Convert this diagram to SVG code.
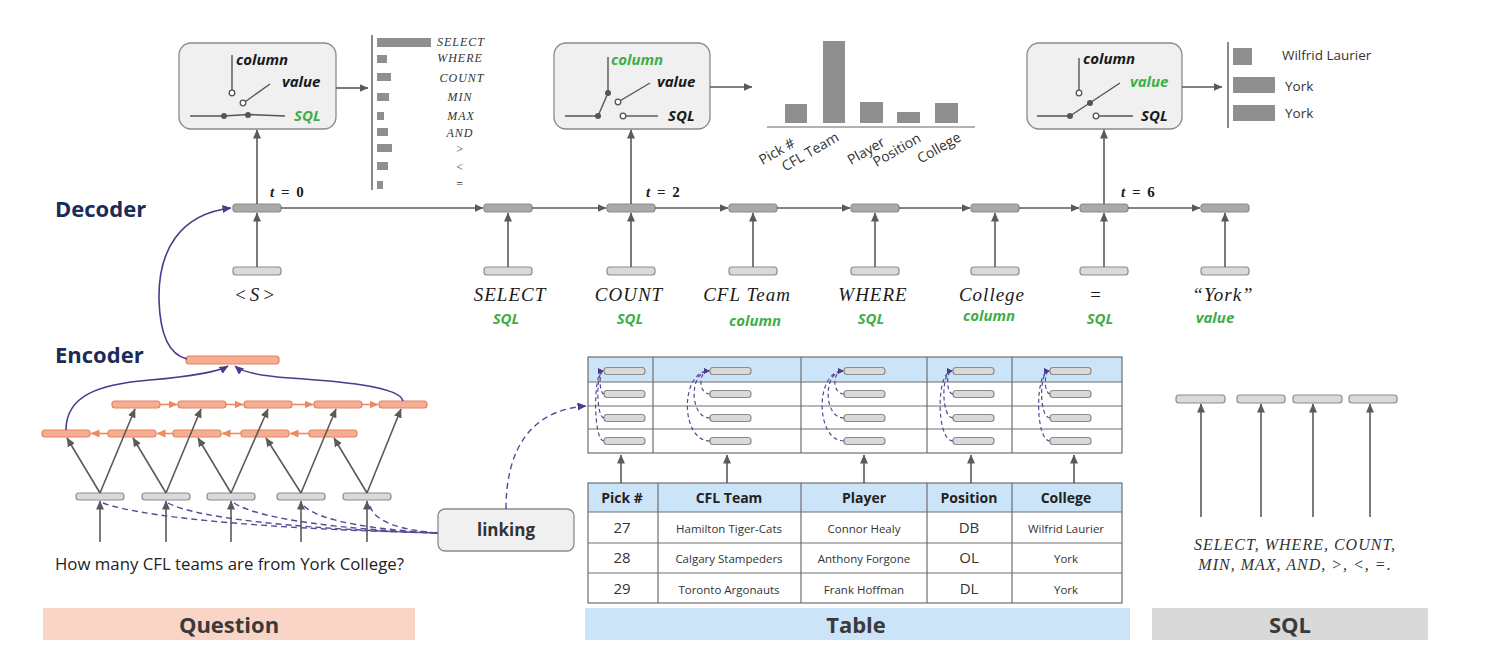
<svg xmlns="http://www.w3.org/2000/svg" width="1504" height="660" viewBox="0 0 1504 660">
<defs>
<style>
.sans{font-family:"Open Sans","Noto Sans","Liberation Sans",sans-serif}
.math{font-family:"Liberation Serif","DejaVu Serif",serif;font-style:italic}
.bi{font-family:"Open Sans","Noto Sans","Liberation Sans",sans-serif;font-weight:bold;font-style:italic;font-size:15px}
.blk{fill:#1a1a1a}
.grn{fill:#3fae49}
.navy{font-family:"Open Sans","Noto Sans","Liberation Sans",sans-serif;font-weight:bold;font-size:22px;fill:#1c2b58}
.box{fill:#f0f0f0;stroke:#8a8a8a;stroke-width:1.3}
.gnode{fill:#d9d9d9;stroke:#8c8c8c;stroke-width:1.2}
.dnode{fill:#a9a9a9;stroke:#8c8c8c;stroke-width:1.2}
.onode{fill:#f4ae93;stroke:#e8825e;stroke-width:1.2}
.arr{stroke:#5a5a5a;stroke-width:1.6;fill:none;marker-end:url(#ag)}
.oarr{stroke:#ee8a60;stroke-width:1.6;fill:none;marker-end:url(#ao)}
.parr{stroke:#4e3a8c;stroke-width:1.6;fill:none;marker-end:url(#ap)}
.pdash{stroke:#5a4796;stroke-width:1.4;fill:none;stroke-dasharray:6 4}
.pdarr{stroke:#5a4796;stroke-width:1.4;fill:none;stroke-dasharray:6 4;marker-end:url(#ap)}
.tdash{stroke:#5a4796;stroke-width:1.2;fill:none;stroke-dasharray:4 3;marker-end:url(#aps)}
.sw{stroke:#555;stroke-width:1.4;fill:none}
.oc{fill:#fff;stroke:#555;stroke-width:1.3}
.fc{fill:#555}
.bar{fill:#8f8f8f}
.axis{stroke:#8a8a8a;stroke-width:2}
.grid{stroke:#6e6e6e;stroke-width:1.2;fill:none}
.hdr{fill:#cce4f7}
.th{font-family:"Open Sans","Noto Sans","Liberation Sans",sans-serif;font-weight:bold;font-size:14px;fill:#222;text-anchor:middle}
.td{font-family:"Open Sans","Noto Sans","Liberation Sans",sans-serif;font-size:11.5px;fill:#333;text-anchor:middle}
.tn{font-family:"Open Sans","Noto Sans","Liberation Sans",sans-serif;font-size:15px;fill:#333;text-anchor:middle}
.lbl{font-family:"Liberation Serif","DejaVu Serif",serif;font-style:italic;font-size:19px;letter-spacing:1px;fill:#1a1a1a;text-anchor:middle}
.sl{font-family:"Liberation Serif","DejaVu Serif",serif;font-style:italic;font-size:12px;letter-spacing:1px;fill:#333;text-anchor:middle}
.tt{font-family:"Liberation Serif","DejaVu Serif",serif;font-weight:bold;font-size:15px;letter-spacing:1.5px;fill:#1a1a1a}
.bl{font-family:"Open Sans","Noto Sans","Liberation Sans",sans-serif;font-size:13px;fill:#333}
.cap{font-family:"Open Sans","Noto Sans","Liberation Sans",sans-serif;font-weight:bold;font-size:22px;fill:#3a3a3a;text-anchor:middle}
</style>
<marker id="ag" markerWidth="10" markerHeight="10" refX="8.5" refY="4" orient="auto" markerUnits="userSpaceOnUse"><path d="M0,0 L9,4 L0,8 z" fill="#5a5a5a"/></marker>
<marker id="ao" markerWidth="10" markerHeight="10" refX="8.5" refY="4" orient="auto" markerUnits="userSpaceOnUse"><path d="M0,0 L9,4 L0,8 z" fill="#ee8a60"/></marker>
<marker id="ap" markerWidth="10" markerHeight="10" refX="8.5" refY="4" orient="auto" markerUnits="userSpaceOnUse"><path d="M0,0 L9,4 L0,8 z" fill="#4e3a8c"/></marker>
<marker id="aps" markerWidth="8" markerHeight="8" refX="5.5" refY="3" orient="auto" markerUnits="userSpaceOnUse"><path d="M0,0 L6,3 L0,6 z" fill="#4e3a8c"/></marker>
</defs>
<rect width="1504" height="660" fill="#fff"/>

<!-- Section labels -->
<text class="navy" x="55" y="217">Decoder</text>
<text class="navy" x="55" y="363">Encoder</text>

<!-- Switch box 1 -->
<g id="switch-t0">
<rect class="box" x="179" y="43" width="157" height="86" rx="12"/>
<line class="sw" x1="232" y1="55" x2="232" y2="90"/>
<circle class="oc" cx="232" cy="93" r="2.8"/>
<circle class="oc" cx="243" cy="103" r="2.8"/>
<line class="sw" x1="245.5" y1="101.5" x2="270" y2="84"/>
<polyline class="sw" points="190,116 224,116 248,114.5 285,116"/>
<circle class="fc" cx="224" cy="116" r="3"/>
<circle class="fc" cx="248" cy="115" r="3"/>
<text class="bi blk" x="236" y="65">column</text>
<text class="bi blk" x="282" y="87">value</text>
<text class="bi grn" x="294" y="121">SQL</text>
</g>

<!-- Bar chart 1 -->
<g id="sql-chart">
<line class="axis" x1="372" y1="35" x2="372" y2="190"/>
<rect class="bar" x="377" y="38" width="54" height="9"/>
<rect class="bar" x="377" y="55" width="10" height="8"/>
<rect class="bar" x="377" y="73" width="14" height="8"/>
<rect class="bar" x="377" y="93" width="12" height="8"/>
<rect class="bar" x="377" y="112" width="7" height="8"/>
<rect class="bar" x="377" y="128" width="11" height="8"/>
<rect class="bar" x="377" y="144" width="15" height="8"/>
<rect class="bar" x="377" y="162" width="11" height="8"/>
<rect class="bar" x="377" y="181" width="6" height="8"/>
<text class="sl" x="461" y="46">SELECT</text>
<text class="sl" x="460" y="62">WHERE</text>
<text class="sl" x="462" y="82">COUNT</text>
<text class="sl" x="460" y="101">MIN</text>
<text class="sl" x="461" y="120">MAX</text>
<text class="sl" x="460" y="137">AND</text>
<text class="sl" x="460" y="153">&gt;</text>
<text class="sl" x="460" y="171">&lt;</text>
<text class="sl" x="460" y="188">=</text>
</g>

<!-- Switch box 2 -->
<g id="switch-t2">
<rect class="box" x="554" y="43" width="156" height="86" rx="12"/>
<line class="sw" x1="608" y1="57" x2="608" y2="93"/>
<line class="sw" x1="608" y1="93" x2="598" y2="116"/>
<line class="sw" x1="565" y1="116" x2="598" y2="116"/>
<circle class="fc" cx="608" cy="93" r="3"/>
<circle class="fc" cx="598" cy="116" r="3"/>
<circle class="oc" cx="618" cy="102" r="2.8"/>
<line class="sw" x1="620.5" y1="100.5" x2="650" y2="83"/>
<circle class="oc" cx="623" cy="116" r="2.8"/>
<line class="sw" x1="626" y1="116" x2="658" y2="116"/>
<text class="bi grn" x="611" y="65">column</text>
<text class="bi blk" x="657" y="87">value</text>
<text class="bi blk" x="668" y="121">SQL</text>
</g>

<!-- Bar chart 2 -->
<g id="column-chart">
<line stroke="#999" stroke-width="1.5" x1="767" y1="127" x2="975" y2="127"/>
<rect class="bar" x="785" y="104" width="22" height="19"/>
<rect class="bar" x="823" y="41" width="22" height="82"/>
<rect class="bar" x="860" y="102" width="23" height="21"/>
<rect class="bar" x="897" y="112" width="23" height="11"/>
<rect class="bar" x="935" y="103" width="23" height="20"/>
<text class="bl" style="font-size:14px" text-anchor="end" transform="translate(796,146) rotate(-30)">Pick #</text>
<text class="bl" style="font-size:14px" text-anchor="end" transform="translate(840,140) rotate(-30)">CFL Team</text>
<text class="bl" style="font-size:14px" text-anchor="end" transform="translate(886,145) rotate(-30)">Player</text>
<text class="bl" style="font-size:14px" text-anchor="end" transform="translate(922,141) rotate(-30)">Position</text>
<text class="bl" style="font-size:14px" text-anchor="end" transform="translate(962,140) rotate(-30)">College</text>
</g>

<!-- Switch box 3 -->
<g id="switch-t6">
<rect class="box" x="1027" y="43" width="155" height="86" rx="12"/>
<line class="sw" x1="1079" y1="58" x2="1079" y2="90"/>
<circle class="oc" cx="1079" cy="93" r="2.8"/>
<line class="sw" x1="1037" y1="116" x2="1070" y2="116"/>
<line class="sw" x1="1070" y1="116" x2="1120" y2="83"/>
<circle class="fc" cx="1070" cy="116" r="3"/>
<circle class="fc" cx="1090" cy="103" r="3"/>
<circle class="oc" cx="1096" cy="116" r="2.8"/>
<line class="sw" x1="1099" y1="116" x2="1133" y2="116"/>
<text class="bi blk" x="1083" y="64">column</text>
<text class="bi grn" x="1130" y="87">value</text>
<text class="bi blk" x="1141" y="121">SQL</text>
</g>

<!-- Bar chart 3 -->
<g id="value-chart">
<line class="axis" x1="1228" y1="42" x2="1228" y2="128"/>
<rect class="bar" x="1233" y="48" width="19" height="17"/>
<rect class="bar" x="1233" y="77" width="42" height="16"/>
<rect class="bar" x="1233" y="105" width="42" height="16"/>
<text class="bl" style="font-size:13.5px" x="1282" y="60">Wilfrid Laurier</text>
<text class="bl" style="font-size:13.5px" x="1285" y="91">York</text>
<text class="bl" style="font-size:13.5px" x="1285" y="118">York</text>
</g>

<!-- Decoder nodes -->
<g id="decoder">
<rect class="dnode" x="233" y="204" width="48" height="8" rx="3"/>
<rect class="dnode" x="484" y="204" width="48" height="8" rx="3"/>
<rect class="dnode" x="607" y="204" width="48" height="8" rx="3"/>
<rect class="dnode" x="729" y="204" width="48" height="8" rx="3"/>
<rect class="dnode" x="851" y="204" width="48" height="8" rx="3"/>
<rect class="dnode" x="971" y="204" width="48" height="8" rx="3"/>
<rect class="dnode" x="1080" y="204" width="48" height="8" rx="3"/>
<rect class="dnode" x="1201" y="204" width="48" height="8" rx="3"/>
</g>
<g id="decoder-inputs">
<rect class="gnode" x="233" y="267" width="48" height="8" rx="3"/>
<rect class="gnode" x="484" y="267" width="48" height="8" rx="3"/>
<rect class="gnode" x="607" y="267" width="48" height="8" rx="3"/>
<rect class="gnode" x="729" y="267" width="48" height="8" rx="3"/>
<rect class="gnode" x="851" y="267" width="48" height="8" rx="3"/>
<rect class="gnode" x="971" y="267" width="48" height="8" rx="3"/>
<rect class="gnode" x="1080" y="267" width="48" height="8" rx="3"/>
<rect class="gnode" x="1201" y="267" width="48" height="8" rx="3"/>
<text class="lbl" x="256" y="301" style="letter-spacing:3px">&lt;S&gt;</text>
<text class="lbl" x="510" y="301">SELECT</text>
<text class="lbl" x="629" y="301">COUNT</text>
<text class="lbl" x="747" y="301">CFL Team</text>
<text class="lbl" x="873" y="301">WHERE</text>
<text class="lbl" x="992" y="301">College</text>
<text class="lbl" x="1096" y="301">=</text>
<text class="lbl" x="1223" y="301">“York”</text>
<text class="bi grn" text-anchor="middle" x="506" y="324">SQL</text>
<text class="bi grn" text-anchor="middle" x="630" y="324">SQL</text>
<text class="bi grn" text-anchor="middle" x="755" y="326">column</text>
<text class="bi grn" text-anchor="middle" x="871" y="324">SQL</text>
<text class="bi grn" text-anchor="middle" x="989" y="321">column</text>
<text class="bi grn" text-anchor="middle" x="1100" y="324">SQL</text>
<text class="bi grn" text-anchor="middle" x="1215" y="323">value</text>
<text class="tt" x="270" y="197"><tspan font-style="italic">t</tspan> = 0</text>
<text class="tt" x="646" y="197"><tspan font-style="italic">t</tspan> = 2</text>
<text class="tt" x="1121" y="197"><tspan font-style="italic">t</tspan> = 6</text>
</g>

<!-- Encoder -->
<g id="encoder">
<rect class="onode" x="186" y="356" width="93" height="8" rx="3"/>
<rect class="onode" x="112" y="401" width="48" height="7" rx="3"/>
<rect class="onode" x="178" y="401" width="48" height="7" rx="3"/>
<rect class="onode" x="244" y="401" width="48" height="7" rx="3"/>
<rect class="onode" x="314" y="401" width="48" height="7" rx="3"/>
<rect class="onode" x="379" y="401" width="48" height="7" rx="3"/>
<rect class="onode" x="42" y="430" width="48" height="7" rx="3"/>
<rect class="onode" x="108" y="430" width="48" height="7" rx="3"/>
<rect class="onode" x="173" y="430" width="48" height="7" rx="3"/>
<rect class="onode" x="241" y="430" width="48" height="7" rx="3"/>
<rect class="onode" x="309" y="430" width="48" height="7" rx="3"/>
<rect class="gnode" x="76" y="493" width="48" height="7" rx="3"/>
<rect class="gnode" x="142" y="493" width="48" height="7" rx="3"/>
<rect class="gnode" x="207" y="493" width="48" height="7" rx="3"/>
<rect class="gnode" x="277" y="493" width="48" height="7" rx="3"/>
<rect class="gnode" x="343" y="493" width="48" height="7" rx="3"/>
<text class="sans" x="55" y="570" font-size="16.8" fill="#222">How many CFL teams are from York College?</text>
</g>

<!-- Linking -->
<g id="linking">
<rect class="box" x="438" y="509" width="136" height="42" rx="7"/>
<text class="sans" x="506" y="536" font-size="17" font-weight="bold" fill="#333" text-anchor="middle">linking</text>
</g>

<!-- Table top (embeddings) -->
<g id="table-encoder">
<rect class="hdr" x="588" y="357" width="534" height="25"/>
<rect class="grid" x="588" y="357" width="534" height="96"/>
<line class="grid" x1="588" y1="382" x2="1122" y2="382"/>
<line class="grid" x1="588" y1="406" x2="1122" y2="406"/>
<line class="grid" x1="588" y1="429" x2="1122" y2="429"/>
<line class="grid" x1="653" y1="357" x2="653" y2="453"/>
<line class="grid" x1="801" y1="357" x2="801" y2="453"/>
<line class="grid" x1="927" y1="357" x2="927" y2="453"/>
<line class="grid" x1="1012" y1="357" x2="1012" y2="453"/>
<g>
<rect class="gnode" x="604" y="367.5" width="41" height="7" rx="3"/><rect class="gnode" x="604" y="390.5" width="41" height="7" rx="3"/><rect class="gnode" x="604" y="414.5" width="41" height="7" rx="3"/><rect class="gnode" x="604" y="437.5" width="41" height="7" rx="3"/>
<rect class="gnode" x="710" y="367.5" width="41" height="7" rx="3"/><rect class="gnode" x="710" y="390.5" width="41" height="7" rx="3"/><rect class="gnode" x="710" y="414.5" width="41" height="7" rx="3"/><rect class="gnode" x="710" y="437.5" width="41" height="7" rx="3"/>
<rect class="gnode" x="844" y="367.5" width="41" height="7" rx="3"/><rect class="gnode" x="844" y="390.5" width="41" height="7" rx="3"/><rect class="gnode" x="844" y="414.5" width="41" height="7" rx="3"/><rect class="gnode" x="844" y="437.5" width="41" height="7" rx="3"/>
<rect class="gnode" x="953" y="367.5" width="41" height="7" rx="3"/><rect class="gnode" x="953" y="390.5" width="41" height="7" rx="3"/><rect class="gnode" x="953" y="414.5" width="41" height="7" rx="3"/><rect class="gnode" x="953" y="437.5" width="41" height="7" rx="3"/>
<rect class="gnode" x="1050" y="367.5" width="41" height="7" rx="3"/><rect class="gnode" x="1050" y="390.5" width="41" height="7" rx="3"/><rect class="gnode" x="1050" y="414.5" width="41" height="7" rx="3"/><rect class="gnode" x="1050" y="437.5" width="41" height="7" rx="3"/>
</g>
</g>

<!-- Table -->
<g id="table">
<rect class="hdr" x="588" y="483" width="534" height="29"/>
<rect class="grid" x="588" y="483" width="534" height="120"/>
<line class="grid" x1="588" y1="512" x2="1122" y2="512"/>
<line class="grid" x1="588" y1="543" x2="1122" y2="543"/>
<line class="grid" x1="588" y1="573" x2="1122" y2="573"/>
<line class="grid" x1="658" y1="483" x2="658" y2="603"/>
<line class="grid" x1="801" y1="483" x2="801" y2="603"/>
<line class="grid" x1="927" y1="483" x2="927" y2="603"/>
<line class="grid" x1="1012" y1="483" x2="1012" y2="603"/>
<text class="th" x="622" y="503">Pick #</text>
<text class="th" x="729" y="503">CFL Team</text>
<text class="th" x="864" y="503">Player</text>
<text class="th" x="969" y="503">Position</text>
<text class="th" x="1066" y="503">College</text>
<text class="tn" x="622" y="533">27</text>
<text class="td" x="729" y="533">Hamilton Tiger-Cats</text>
<text class="td" x="864" y="533">Connor Healy</text>
<text class="tn" x="969" y="533">DB</text>
<text class="td" x="1066" y="533">Wilfrid Laurier</text>
<text class="tn" x="622" y="563">28</text>
<text class="td" x="729" y="563">Calgary Stampeders</text>
<text class="td" x="864" y="563">Anthony Forgone</text>
<text class="tn" x="969" y="563">OL</text>
<text class="td" x="1066" y="563">York</text>
<text class="tn" x="622" y="594">29</text>
<text class="td" x="729" y="594">Toronto Argonauts</text>
<text class="td" x="864" y="594">Frank Hoffman</text>
<text class="tn" x="969" y="594">DL</text>
<text class="td" x="1066" y="594">York</text>
</g>

<!-- SQL vocabulary -->
<g id="sql-vocab">
<rect class="gnode" x="1176" y="395" width="49" height="8" rx="3"/>
<rect class="gnode" x="1237" y="395" width="48" height="8" rx="3"/>
<rect class="gnode" x="1293" y="395" width="49" height="8" rx="3"/>
<rect class="gnode" x="1349" y="395" width="48" height="8" rx="3"/>
<text class="math" x="1295" y="550" font-size="16" letter-spacing="1" fill="#333" text-anchor="middle">SELECT, WHERE, COUNT,</text>
<text class="math" x="1295" y="570" font-size="16" letter-spacing="1" fill="#333" text-anchor="middle">MIN, MAX, AND, &gt;, &lt;, =.</text>
</g>

<!-- Bottom captions -->
<g id="caption-question"><rect x="43" y="608" width="372" height="32" fill="#f9d5c7"/><text class="cap" x="229" y="633">Question</text></g>
<g id="caption-table"><rect x="585" y="608" width="545" height="32" fill="#cce4f7"/><text class="cap" x="856" y="633">Table</text></g>
<g id="caption-sql"><rect x="1152" y="608" width="276" height="32" fill="#d9d9d9"/><text class="cap" x="1290" y="633">SQL</text></g>

<!-- Connectors -->
<g id="connectors">
<line class="arr" x1="336" y1="88" x2="368" y2="88"/>
<line class="arr" x1="710" y1="87" x2="752" y2="87"/>
<line class="arr" x1="1182" y1="87" x2="1222" y2="87"/>
<line class="arr" x1="257" y1="204" x2="257" y2="130"/>
<line class="arr" x1="631" y1="204" x2="631" y2="130"/>
<line class="arr" x1="1104" y1="204" x2="1104" y2="130"/>
<line class="arr" x1="281" y1="208" x2="483" y2="208"/>
<line class="arr" x1="532" y1="208" x2="606" y2="208"/>
<line class="arr" x1="655" y1="208" x2="728" y2="208"/>
<line class="arr" x1="777" y1="208" x2="850" y2="208"/>
<line class="arr" x1="899" y1="208" x2="970" y2="208"/>
<line class="arr" x1="1019" y1="208" x2="1079" y2="208"/>
<line class="arr" x1="1128" y1="208" x2="1200" y2="208"/>
<line class="arr" x1="257" y1="267" x2="257" y2="213"/>
<line class="arr" x1="508" y1="267" x2="508" y2="213"/>
<line class="arr" x1="631" y1="267" x2="631" y2="213"/>
<line class="arr" x1="753" y1="267" x2="753" y2="213"/>
<line class="arr" x1="875" y1="267" x2="875" y2="213"/>
<line class="arr" x1="995" y1="267" x2="995" y2="213"/>
<line class="arr" x1="1104" y1="267" x2="1104" y2="213"/>
<line class="arr" x1="1225" y1="267" x2="1225" y2="213"/>
<path class="parr" d="M187,359 C170,355 160,335 159,300 C158,250 180,214 231,208"/>
<path class="parr" d="M66,430 C66,395 100,384 150,380 C195,376 218,372 228,366"/>
<path class="parr" d="M403,401 C400,386 335,381 290,378 C262,376 243,373 235,366"/>
<line class="oarr" x1="160" y1="404.5" x2="177" y2="404.5"/>
<line class="oarr" x1="226" y1="404.5" x2="243" y2="404.5"/>
<line class="oarr" x1="292" y1="404.5" x2="313" y2="404.5"/>
<line class="oarr" x1="362" y1="404.5" x2="378" y2="404.5"/>
<line class="oarr" x1="108" y1="433.5" x2="91" y2="433.5"/>
<line class="oarr" x1="173" y1="433.5" x2="157" y2="433.5"/>
<line class="oarr" x1="241" y1="433.5" x2="222" y2="433.5"/>
<line class="oarr" x1="309" y1="433.5" x2="290" y2="433.5"/>
<line class="arr" x1="100" y1="493" x2="67" y2="438"/>
<line class="arr" x1="100" y1="493" x2="135" y2="409"/>
<line class="arr" x1="166" y1="493" x2="133" y2="438"/>
<line class="arr" x1="166" y1="493" x2="201" y2="409"/>
<line class="arr" x1="231" y1="493" x2="198" y2="438"/>
<line class="arr" x1="231" y1="493" x2="268" y2="409"/>
<line class="arr" x1="301" y1="493" x2="266" y2="438"/>
<line class="arr" x1="301" y1="493" x2="336" y2="409"/>
<line class="arr" x1="367" y1="493" x2="334" y2="438"/>
<line class="arr" x1="367" y1="493" x2="401" y2="409"/>
<line class="arr" x1="100" y1="542" x2="100" y2="501"/>
<line class="arr" x1="166" y1="542" x2="166" y2="501"/>
<line class="arr" x1="231" y1="542" x2="231" y2="501"/>
<line class="arr" x1="301" y1="542" x2="301" y2="501"/>
<line class="arr" x1="367" y1="542" x2="367" y2="501"/>
<path class="pdash" d="M103,503 C150,520 300,530 438,533"/>
<path class="pdash" d="M168,503 C200,520 320,530 438,533"/>
<path class="pdash" d="M234,503 C260,520 350,530 438,533"/>
<path class="pdash" d="M304,506 C320,522 380,530 438,533"/>
<path class="pdash" d="M370,506 C375,522 400,530 438,533"/>
<path class="pdarr" d="M506,509 C506,450 530,410 586,406"/>
<path class="tdash" d="M604,394 C599,394 599,371 603,371"/>
<path class="tdash" d="M604,418 C596,418 596,371 603,371"/>
<path class="tdash" d="M604,441 C593,441 593,371 603,371"/>
<path class="tdash" d="M710,394 C698,394 698,371 709,371"/>
<path class="tdash" d="M710,418 C689,418 689,371 709,371"/>
<path class="tdash" d="M710,441 C680,441 680,371 709,371"/>
<path class="tdash" d="M844,394 C832,394 832,371 843,371"/>
<path class="tdash" d="M844,418 C823,418 823,371 843,371"/>
<path class="tdash" d="M844,441 C815,441 815,371 843,371"/>
<path class="tdash" d="M953,394 C946,394 946,371 952,371"/>
<path class="tdash" d="M953,418 C941,418 941,371 952,371"/>
<path class="tdash" d="M953,441 C936,441 936,371 952,371"/>
<path class="tdash" d="M1050,394 C1044,394 1044,371 1049,371"/>
<path class="tdash" d="M1050,418 C1039,418 1039,371 1049,371"/>
<path class="tdash" d="M1050,441 C1035,441 1035,371 1049,371"/>
<line class="arr" x1="621" y1="483" x2="621" y2="455"/>
<line class="arr" x1="727" y1="483" x2="727" y2="455"/>
<line class="arr" x1="864" y1="483" x2="864" y2="455"/>
<line class="arr" x1="971" y1="483" x2="971" y2="455"/>
<line class="arr" x1="1074" y1="483" x2="1074" y2="455"/>
<line class="arr" x1="1201" y1="517" x2="1201" y2="404"/>
<line class="arr" x1="1261" y1="517" x2="1261" y2="404"/>
<line class="arr" x1="1313" y1="517" x2="1313" y2="404"/>
<line class="arr" x1="1370" y1="517" x2="1370" y2="404"/>
</g>
</svg>
